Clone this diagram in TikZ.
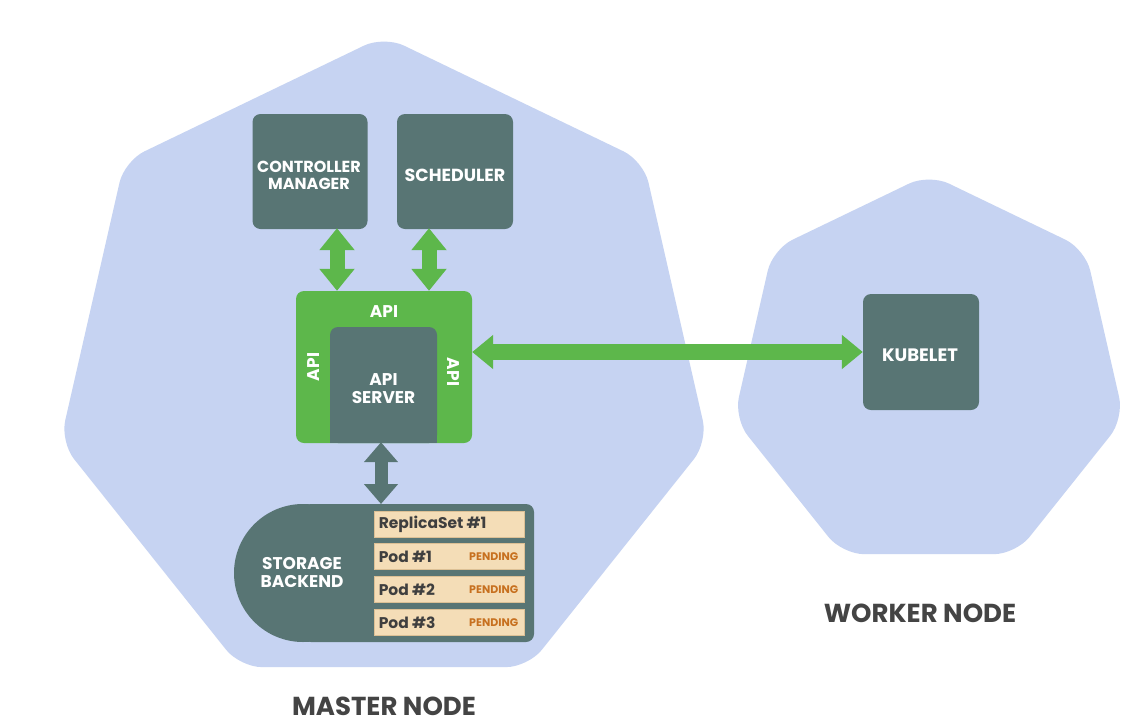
\documentclass[tikz,border=0pt]{standalone}
\usepackage{fontspec}
\setmainfont{Poppins}
\usetikzlibrary{shapes.geometric,arrows.meta,calc}
\definecolor{hepta}{HTML}{C6D3F2}
\definecolor{slate}{HTML}{587574}
\definecolor{kgreen}{HTML}{5DB74B}
\definecolor{beige}{HTML}{F4DDB7}
\definecolor{beigeline}{HTML}{DCC095}
\definecolor{pend}{HTML}{C7701F}
\definecolor{rowtxt}{HTML}{3F3F3F}
\definecolor{lbl}{HTML}{444444}
\begin{document}
\begin{tikzpicture}[x=1pt,y=-1pt,
  heptagon/.style={regular polygon, regular polygon sides=7, fill=hepta, inner sep=0pt, rounded corners=22pt},
  darkbox/.style={fill=slate, rounded corners=8pt, inner sep=0pt},
  boxtext/.style={text=white, font=\bfseries\fontsize{16}{18}\selectfont, align=center, inner sep=0pt},
  rowbox/.style={fill=beige, draw=beigeline, line width=0.8pt, minimum width=150pt, minimum height=26pt, inner sep=0pt},
  rowtext/.style={text=rowtxt, font=\bfseries\fontsize{15.5}{17}\selectfont, inner sep=0pt, anchor=west},
  pendtext/.style={text=pend, font=\bfseries\fontsize{11}{12}\selectfont, inner sep=0pt, anchor=east},
  apilbl/.style={text=white, font=\bfseries\fontsize{17}{19}\selectfont, inner sep=0pt},
  title/.style={text=lbl, font=\bfseries\fontsize{26}{28}\selectfont, inner sep=0pt},
  garrow/.style={draw=kgreen, line width=15pt, {Triangle[width=34pt,length=22pt]}-{Triangle[width=34pt,length=22pt]}},
  harrow/.style={draw=kgreen, line width=16pt, {Triangle[width=33pt,length=21pt]}-{Triangle[width=33pt,length=21pt]}},
  darrow/.style={draw=slate, line width=13pt, {Triangle[width=33pt,length=20pt]}-{Triangle[width=33pt,length=20pt]}}
]
\useasboundingbox (0,0) rectangle (1123,723);
\fill[white] (0,0) rectangle (1123,723);

% heptagons
\node[heptagon, minimum size=664pt] (master) at (384,368) {};
\node[heptagon, minimum size=400pt] (worker) at (929,374) {};

% top boxes
\node[darkbox, minimum width=115pt, minimum height=115pt] (cm) at (310,171.5) {};
\node[boxtext] (cmtxt) at (309,175) {CONTROLLER\\[-1pt]MANAGER};
\node[darkbox, minimum width=116pt, minimum height=115pt] (sched) at (455,171.5) {};
\node[boxtext, font=\bfseries\fontsize{17.5}{19}\selectfont] (schedtxt) at (455,175) {SCHEDULER};
\node[darkbox, minimum width=116pt, minimum height=116pt] (kub) at (921,352) {};
\node[boxtext, font=\bfseries\fontsize{18}{20}\selectfont] (kubtxt) at (920,355) {KUBELET};

% API box
\node[fill=kgreen, rounded corners=8pt, minimum width=176pt, minimum height=152pt, inner sep=0pt] (api) at (384,367) {};
\node[darkbox, minimum width=107pt, minimum height=116pt] (apisrv) at (383.5,385) {};
\fill[slate] (330,430) rectangle (437,443);
\node[boxtext, font=\bfseries\fontsize{17}{19}\selectfont] (apisrvtxt) at (383.5,389) {API\\[-1pt]SERVER};
\node[apilbl] (apitop) at (384,312) {API};
\node[apilbl, rotate=90] (apileft) at (314,367) {API};
\node[apilbl, rotate=-90] (apiright) at (453,372) {API};

% storage backend
\fill[slate] (303,573) circle[radius=69pt];
\fill[slate, rounded corners=8pt] (303,504) rectangle (534,642);
\coordinate (stortop) at (381,504);
\node[boxtext, font=\bfseries\fontsize{17}{19}\selectfont] (stor) at (302,572) {STORAGE\\[-1pt]BACKEND};

\node[rowbox] (r1) at (449,524) {};
\node[rowbox] (r2) at (449,556.5) {};
\node[rowbox] (r3) at (449,589.5) {};
\node[rowbox] (r4) at (449,622.5) {};
\node[rowtext] (t1) at ([xshift=5pt]r1.west) {ReplicaSet \#1};
\node[rowtext] (t2) at ([xshift=5pt]r2.west) {Pod \#1};
\node[rowtext] (t3) at ([xshift=5pt]r3.west) {Pod \#2};
\node[rowtext] (t4) at ([xshift=5pt]r4.west) {Pod \#3};
\node[pendtext] (p2) at ([xshift=-6pt]r2.east) {PENDING};
\node[pendtext] (p3) at ([xshift=-6pt]r3.east) {PENDING};
\node[pendtext] (p4) at ([xshift=-6pt]r4.east) {PENDING};

% arrows
\draw[garrow] ([xshift=27pt,yshift=1pt]cm.south) -- ([xshift=27pt]cm.south |- api.north);
\draw[garrow] ([xshift=-26pt,yshift=1pt]sched.south) -- ([xshift=-26pt]sched.south |- api.north);
\draw[harrow] (api.east |- kub.west) -- (kub.west);
\draw[darrow] ([yshift=1pt]api.south -| stortop) -- (stortop);

% titles
\node[title] (mtitle) at (384,706) {MASTER NODE};
\node[title] (wtitle) at (920,613) {WORKER NODE};
\end{tikzpicture}
\end{document}
